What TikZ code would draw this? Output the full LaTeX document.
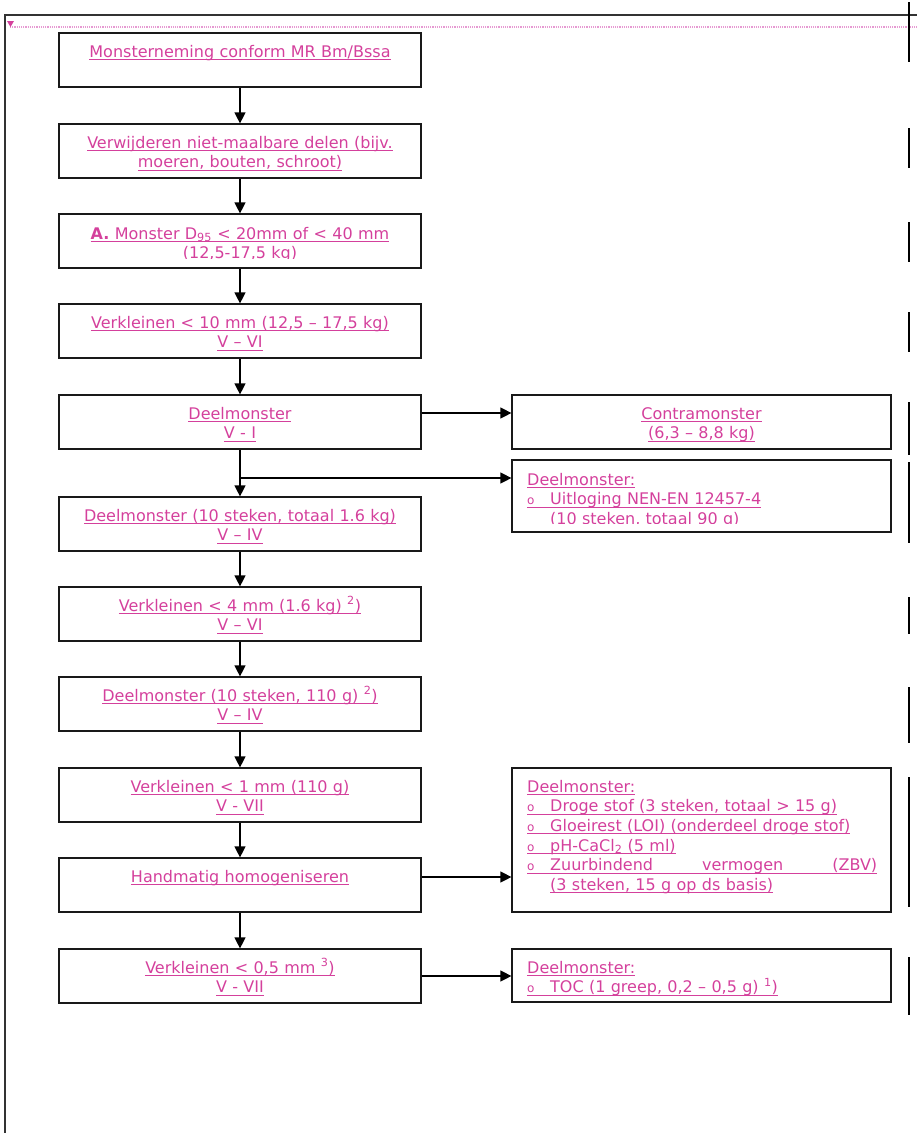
\documentclass[tikz,border=0pt]{standalone}
\usepackage{fontspec}
\setmainfont{DejaVu Sans}
\usetikzlibrary{arrows.meta}
\definecolor{pinktxt}{HTML}{D4409C}
\definecolor{pinkline}{HTML}{E69AD2}
\definecolor{framecol}{HTML}{333333}
\newcommand{\uln}[1]{\leavevmode\setbox0\hbox{#1}\rlap{\rule[-2.8pt]{\wd0}{0.9pt}}\box0}
\newcommand{\fl}{\rule{0pt}{15pt}}
\newcommand{\bul}{\makebox[23pt][l]{\fontsize{12}{12}\selectfont o}}
\begin{document}
\begin{tikzpicture}[x=1pt,y=-1pt,
  box/.style={draw=black!90, line width=1.2pt, minimum width=362pt, minimum height=54pt, inner sep=0pt},
  rbox/.style={draw=black!90, line width=1.2pt, minimum width=379pt, inner sep=0pt},
  ctxt/.style={anchor=north, inner sep=0pt, text width=362pt, align=center, text=pinktxt, font=\fontsize{16}{19.6}\selectfont},
  ltxt/.style={anchor=north west, inner sep=0pt, text width=360pt, align=left, text=pinktxt, font=\fontsize{16}{19.6}\selectfont},
  arr/.style={line width=1.2pt, -{Triangle[length=11pt,width=11pt]}},
]
\useasboundingbox (0,0) rectangle (917,1133);
% frame
\draw[framecol, line width=1.4pt] (5,1133) -- (5,15) -- (917,15);
\draw[pinkline, densely dotted, line width=1.2pt] (10,27) -- (917,27);
\fill[pinktxt] (7,21) -- (14,21) -- (10.5,27) -- cycle;
% change bars
\foreach \a/\b in {2/62,128/168,222/262,312/352,402/455,462/543,597/634,687/743,777/907,957/1015}
  \draw[line width=2.2pt] (909,\a) -- (909,\b);
% left boxes
\node[box] (b1) at (240,60) {};
\node[box] (b2) at (240,151) {};
\node[box] (b3) at (240,241) {};
\node[box] (b4) at (240,331) {};
\node[box] (b5) at (240,422) {};
\node[box] (b6) at (240,524) {};
\node[box] (b7) at (240,614) {};
\node[box] (b8) at (240,704) {};
\node[box] (b9) at (240,795) {};
\node[box] (b10) at (240,885) {};
\node[box] (b11) at (240,976) {};
% right boxes
\node[rbox, minimum height=54pt] (r1) at (701.5,422) {};
\node[rbox, minimum height=72pt] (r2) at (701.5,496) {};
\node[rbox, minimum height=144pt] (r3) at (701.5,840) {};
\node[rbox, minimum height=53pt] (r4) at (701.5,975.5) {};
% left texts
\node[ctxt] (t1) at (240,42) {\fl\uln{Monsterneming conform MR Bm/Bssa}};
\node[ctxt] (t2) at (240,133) {\fl\uln{Verwijderen niet-maalbare delen (bijv.}\\\uln{moeren, bouten, schroot)}};
\begin{scope}
\clip (59,214) rectangle (421,258.5);
\node[ctxt] (t3) at (240,224) {\fl\uln{\textbf{A.} Monster D\textsubscript{95} < 20mm of < 40 mm}\\\uln{(12,5-17,5 kg)}};
\end{scope}
\node[ctxt] (t4) at (240,313) {\fl\uln{Verkleinen < 10 mm (12,5 – 17,5 kg)}\\\uln{V – VI}};
\node[ctxt] (t5) at (240,404) {\fl\uln{Deelmonster}\\\uln{V - I}};
\node[ctxt] (t6) at (240,506) {\fl\uln{Deelmonster (10 steken, totaal 1.6 kg)}\\\uln{V – IV}};
\node[ctxt] (t7) at (240,596) {\fl\uln{Verkleinen < 4 mm (1.6 kg) \textsuperscript{2})}\\\uln{V – VI}};
\node[ctxt] (t8) at (240,686) {\fl\uln{Deelmonster (10 steken, 110 g) \textsuperscript{2})}\\\uln{V – IV}};
\node[ctxt] (t9) at (240,777) {\fl\uln{Verkleinen < 1 mm (110 g)}\\\uln{V - VII}};
\node[ctxt] (t10) at (240,867) {\fl\uln{Handmatig homogeniseren}};
\node[ctxt] (t11) at (240,958) {\fl\uln{Verkleinen < 0,5 mm \textsuperscript{3})}\\\uln{V - VII}};
% right texts
\node[ctxt, text width=379pt] (u1) at (701.5,404) {\fl\uln{Contramonster}\\\uln{(6,3 – 8,8 kg)}};
\begin{scope}
\clip (512,460) rectangle (891,523.5);
\node[ltxt] (u2) at (527,470) {\fl\uln{Deelmonster:}\\\uln{\bul Uitloging NEN-EN 12457-4}\\\hspace*{23pt}\uln{(10 steken, totaal 90 g)}};
\end{scope}
\node[ltxt] (u3) at (527,777) {\fl\uln{Deelmonster:}\\
\uln{\bul Droge stof (3 steken, totaal > 15 g)}\\
\uln{\bul Gloeirest (LOI) (onderdeel droge stof)}\\
\uln{\bul pH-CaCl\textsubscript{2} (5 ml)}\\
\uln{\bul\hbox to 327pt{Zuurbindend\hfill vermogen\hfill (ZBV)}}\\
\hspace*{23pt}\uln{(3 steken, 15 g op ds basis)}};
\node[ltxt] (u4) at (527,958) {\fl\uln{Deelmonster:}\\\uln{\bul TOC (1 greep, 0,2 – 0,5 g) \textsuperscript{1})}};
% connectors
\draw[arr] (b1) -- (b2);
\draw[arr] (b2) -- (b3);
\draw[arr] (b3) -- (b4);
\draw[arr] (b4) -- (b5);
\draw[arr] (b5) -- (b6);
\draw[arr] (b6) -- (b7);
\draw[arr] (b7) -- (b8);
\draw[arr] (b8) -- (b9);
\draw[arr] (b9) -- (b10);
\draw[arr] (b10) -- (b11);
\coordinate (j) at (240,478);
\draw[arr] (j) -- (j -| r2.west);
\draw[arr] ([yshift=9pt]b5.east) -- ([yshift=9pt]b5.east -| r1.west);
\draw[arr] ([yshift=8pt]b10.east) -- ([yshift=8pt]b10.east -| r3.west);
\draw[arr] (b11.east) -- (b11.east -| r4.west);
\end{tikzpicture}
\end{document}
